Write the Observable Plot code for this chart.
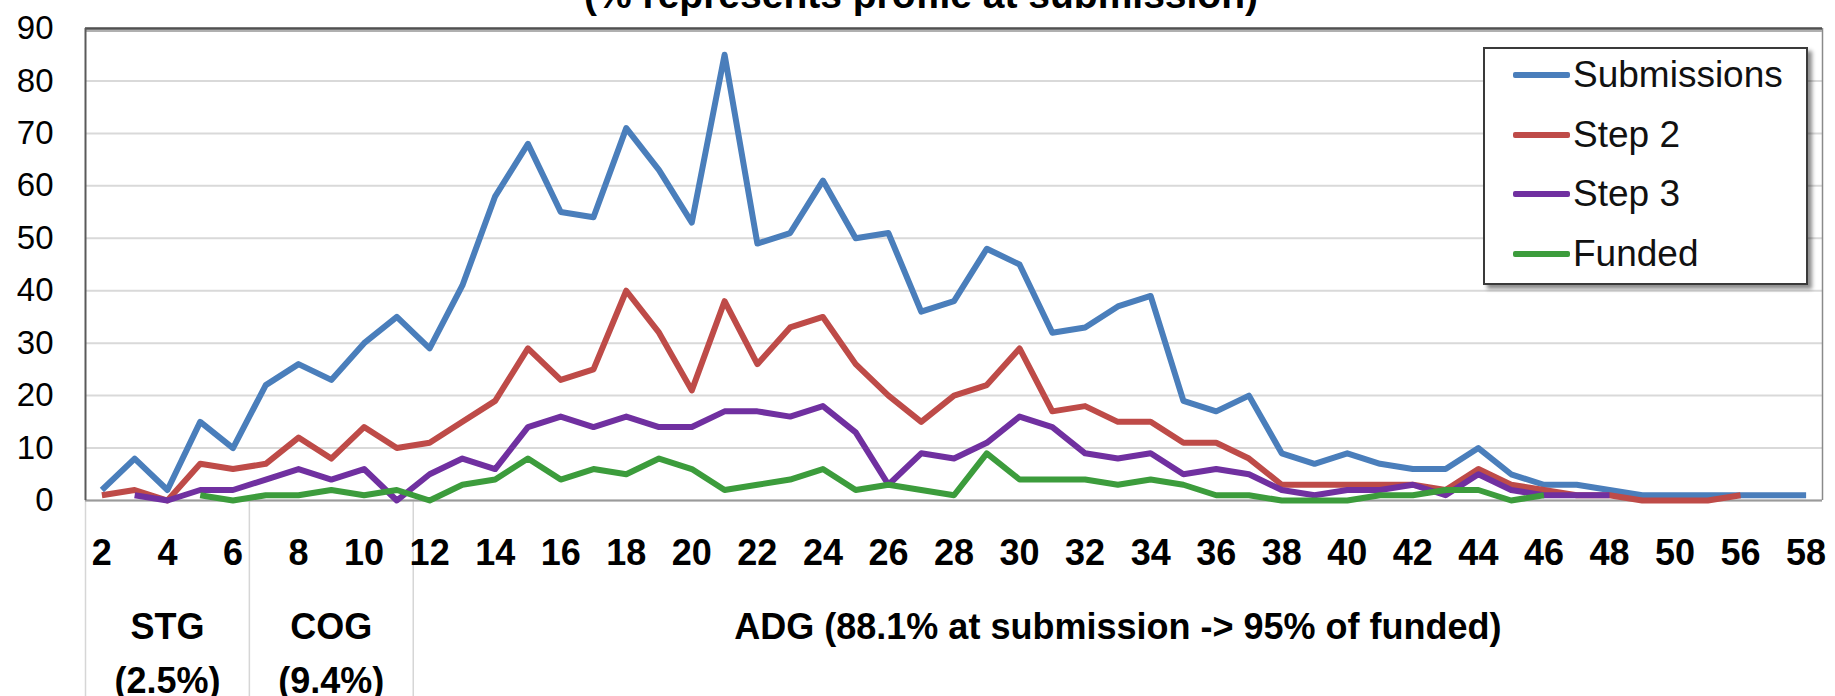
<!DOCTYPE html>
<html><head><meta charset="utf-8">
<script src="https://cdn.jsdelivr.net/npm/d3@7"></script>
<script src="https://cdn.jsdelivr.net/npm/@observablehq/plot@0.6"></script>
<style>
html,body{margin:0;padding:0;background:#fff;}
#wrap{position:relative;width:1835px;height:696px;overflow:hidden;font-family:"Liberation Sans",Arial,sans-serif;}
#legend{position:absolute;left:1483px;top:47px;width:325px;height:238px;box-sizing:border-box;border:2px solid #3a3a3a;background:#fff;box-shadow:4px 4px 4px rgba(0,0,0,0.45);}
.row{position:absolute;left:0;height:44px;display:flex;align-items:center;}
.sw{width:57px;height:6px;margin-left:28px;border-radius:2px;}
.lb{font-size:37px;color:#111;margin-left:3px;line-height:44px;}
</style></head><body><div id="wrap"></div>
<script>
// ---- data ----
const categories = ["2","3","4","5","6","7","8","9","10","11","12","13","14","15","16","17","18","19","20","21","22","23","24","25","26","27","28","29","30","31","32","33","34","35","36","37","38","39","40","41","42","43","44","45","46","47","48","49","50","53","56","57","58"];
const tickLabels = ["2","4","6","8","10","12","14","16","18","20","22","24","26","28","30","32","34","36","38","40","42","44","46","48","50","56","58"];
const yTicks = [0,10,20,30,40,50,60,70,80,90];

const seriesNames = ["Submissions","Step 2","Step 3","Funded"];
const seriesColors = ["#4a7ebb","#be4b48","#7030a0","#3c9c3c"];

const submissions = [2,8,2,15,10,22,26,23,30,35,29,41,58,68,55,54,71,63,53,85,49,51,61,50,51,36,38,48,45,32,33,37,39,19,17,20,9,7,9,7,6,6,10,5,3,3,2,1,1,1,1,1,1];
const step2 = [1,2,0,7,6,7,12,8,14,10,11,15,19,29,23,25,40,32,21,38,26,33,35,26,20,15,20,22,29,17,18,15,15,11,11,8,3,3,3,3,3,2,6,3,2,1,1,0,0,0,1,null,null];
const step3 = [null,1,0,2,2,4,6,4,6,0,5,8,6,14,16,14,16,14,14,17,17,16,18,13,3,9,8,11,16,14,9,8,9,5,6,5,2,1,2,2,3,1,5,2,1,1,1,null,null,null,null,null,null];
const funded = [null,null,null,1,0,1,1,2,1,2,0,3,4,8,4,6,5,8,6,2,3,4,6,2,3,2,1,9,4,4,4,3,4,3,1,1,0,0,0,1,1,2,2,0,1,null,null,null,null,null,null,null,null];
const seriesValues = [submissions, step2, step3, funded];

const groups = [
  {label: "STG\n(2.5%)", from: "2", to: "6"},
  {label: "COG\n(9.4%)", from: "7", to: "11"},
  {label: "ADG (88.1% at submission -> 95% of funded)", from: "12", to: "58"}
];
const title = "(% represents profile at submission)";

// ---- layout ----
const W = 1835, H = 696, mL = 85, mR = 13, mT = 28, mB = 196;

const rows = [];
seriesNames.forEach((name, k) => seriesValues[k].forEach((v, i) => rows.push({series: name, i, v})));
const tickIdx = tickLabels.map(t => categories.indexOf(t));
const groupRows = groups.map(g => {
  const a = categories.indexOf(g.from), b = categories.indexOf(g.to);
  return {label: g.label, center: (a + b) / 2, start: a - 0.5};
});
const bounds = groupRows.map(g => g.start);

const chart = Plot.plot({
  width: W, height: H,
  marginLeft: mL, marginRight: mR, marginTop: mT, marginBottom: mB,
  style: {fontFamily: "Liberation Sans, Arial, sans-serif", background: "white", overflow: "visible"},
  x: {type: "linear", domain: [-0.5, categories.length - 0.5], label: null},
  y: {domain: [0, 90], label: null},
  color: {domain: seriesNames, range: seriesColors},
  marks: [
    Plot.gridY(yTicks, {stroke: "#d9d9d9", strokeOpacity: 1, strokeWidth: 2}),
    Plot.ruleX(bounds, {stroke: "#d6d6d6", strokeWidth: 1.5, insetTop: H - mT - mB, insetBottom: -mB}),
    Plot.ruleY([0], {stroke: "#9a9a9a", strokeWidth: 2}),
    Plot.ruleX([categories.length - 0.5], {stroke: "#8a8a8a", strokeWidth: 1.5}),
    Plot.ruleY([90], {stroke: "#b0b0b0", strokeWidth: 2, dy: 2.5}),
    Plot.ruleY([90], {stroke: "#505050", strokeWidth: 2.5}),
    Plot.ruleX([-0.5], {stroke: "#5a5a5a", strokeWidth: 2}),
    Plot.line(rows, {x: "i", y: "v", z: "series", stroke: "series", strokeWidth: 6, strokeLinejoin: "round", strokeLinecap: "butt"}),
    Plot.axisY(yTicks, {label: null, tickSize: 0, tickPadding: 32, fontSize: 33, fill: "#000", tickFormat: d => String(d)}),
    Plot.axisX(tickIdx, {label: null, tickSize: 0, tickPadding: 39, fontSize: 36, fontWeight: "bold", fill: "#000", tickFormat: i => categories[i]}),
    Plot.text(groupRows, {x: "center", text: "label", frameAnchor: "bottom", dy: 100, lineAnchor: "top", lineHeight: 1.5, fontSize: 36, fontWeight: "bold", fill: "#000"}),
    Plot.text([title], {frameAnchor: "top", dx: -33, dy: -33, lineAnchor: "middle", fontSize: 39, fontWeight: "bold", fill: "#000"})
  ]
});

const wrap = document.getElementById("wrap");
wrap.appendChild(chart);

// legend
const legend = document.createElement("div");
legend.id = "legend";
seriesNames.forEach((name, k) => {
  const row = document.createElement("div");
  row.className = "row";
  row.style.top = (28 + 59.5 * k - 22 - 2) + "px";
  const sw = document.createElement("div");
  sw.className = "sw";
  sw.style.background = seriesColors[k];
  const lb = document.createElement("span");
  lb.className = "lb";
  lb.textContent = name;
  row.appendChild(sw); row.appendChild(lb);
  legend.appendChild(row);
});
wrap.appendChild(legend);
</script>
</body></html>
